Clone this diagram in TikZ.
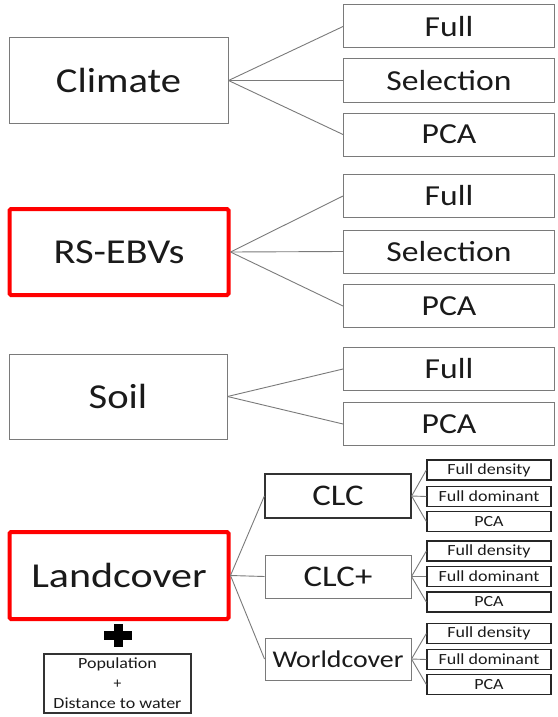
\documentclass[tikz,border=0pt]{standalone}
\usepackage{fontspec}
\setmainfont{Carlito}
\newcommand\hs[1]{\scalebox{1.16}[1]{#1}}
\newcommand\hsb[1]{\scalebox{1.2}[1]{#1}}
\definecolor{txt}{HTML}{1A1A1A}
\definecolor{edge}{HTML}{7A7A7A}
\definecolor{redbox}{HTML}{FF0000}
\begin{document}
\begin{tikzpicture}[x=1pt,y=-1pt,
  every node/.style={inner sep=0pt, text=txt},
  mainbox/.style={draw=edge, line width=1pt, minimum width=219, minimum height=85,
    font=\fontsize{35}{40}\selectfont},
  redmain/.style={draw=redbox, line width=4pt, rounded corners=1.5pt, minimum width=219, minimum height=86,
    font=\fontsize{35}{40}\selectfont},
  optbox/.style={draw=edge, line width=1pt, minimum width=211, minimum height=43,
    font=\fontsize{29}{34}\selectfont},
  midbox/.style={draw=edge, line width=1pt, minimum width=146, minimum height=43,
    font=\fontsize{30}{34}\selectfont},
  smallbox/.style={draw=black!85, line width=1.3pt, minimum width=124, minimum height=20,
    font=\fontsize{15.5}{18}\selectfont},
  link/.style={draw=edge, line width=0.9pt}
]
\useasboundingbox (0,0) rectangle (557,717);

% Climate
\node[mainbox] (clim) at (118.5,80.5) {\hs{Climate}};
\node[optbox] (cf) at (449,26.5) {\hs{Full}};
\node[optbox] (cs) at (449,80.5) {\hs{Selection}};
\node[optbox] (cp) at (449,134.5) {\hs{PCA}};
\draw[link] (clim.east) -- (cf.west);
\draw[link] (clim.east) -- (cs.west);
\draw[link] (clim.east) -- (cp.west);

% RS-EBVs
\node[redmain] (rs) at (119,252) {\hs{RS-EBVs}};
\node[optbox] (rf) at (449,196) {\hs{Full}};
\node[optbox] (rsel) at (449,251.5) {\hs{Selection}};
\node[optbox] (rp) at (449,306) {\hs{PCA}};
\draw[link] (rs.east) -- (rf.west);
\draw[link] (rs.east) -- (rsel.west);
\draw[link] (rs.east) -- (rp.west);

% Soil
\node[mainbox, minimum width=218] (soil) at (118,396.5) {\hs{Soil}};
\node[optbox] (sf) at (449,369) {\hs{Full}};
\node[optbox] (sp) at (449,424) {\hs{PCA}};
\draw[link] (soil.east) -- (sf.west);
\draw[link] (soil.east) -- (sp.west);

% Landcover
\node[redmain, minimum height=87] (lc) at (119,575.5) {\hsb{Landcover}};
\node[midbox, draw=black!80, line width=1.3pt, minimum height=44] (clc) at (338,496) {\hs{CLC}};
\node[midbox] (clcp) at (338,576.5) {\hs{CLC+}};
\node[midbox, minimum height=42, font=\fontsize{24}{28}\selectfont] (wc) at (338,659) {\hs{Worldcover}};
\draw[link] (lc.east) -- (clc.west);
\draw[link] (lc.east) -- (clcp.west);
\draw[link] (lc.east) -- (wc.west);

\node[smallbox] (a1) at (489,470) {\hs{Full density}};
\node[smallbox] (a2) at (489,496.5) {\hs{Full dominant}};
\node[smallbox] (a3) at (489,521.5) {\hs{PCA}};
\node[smallbox] (b1) at (489,551) {\hs{Full density}};
\node[smallbox] (b2) at (489,576.5) {\hs{Full dominant}};
\node[smallbox] (b3) at (489,602) {\hs{PCA}};
\node[smallbox] (c1) at (489,633.5) {\hs{Full density}};
\node[smallbox] (c2) at (489,659.5) {\hs{Full dominant}};
\node[smallbox] (c3) at (489,684.5) {\hs{PCA}};
\foreach \s/\t in {clc/a1,clc/a2,clc/a3,clcp/b1,clcp/b2,clcp/b3,wc/c1,wc/c2,wc/c3}
  \draw[link] (\s.east) -- (\t.west);

% plus sign
\fill[black] (104,631) rectangle (132,640);
\fill[black] (113.5,624) rectangle (122.5,647);

% Population box
\node[draw=black!80, line width=1.2pt, minimum width=147, minimum height=59, align=center,
  font=\fontsize{15.5}{20}\selectfont] (pop) at (117.5,683.5) {\hs{Population}\\+\\\hs{Distance to water}};
\end{tikzpicture}
\end{document}
